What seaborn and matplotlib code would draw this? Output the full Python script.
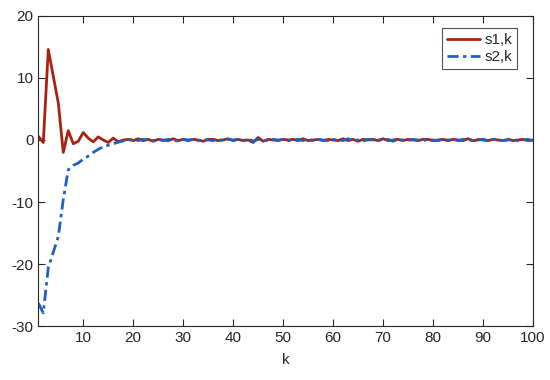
import matplotlib
matplotlib.use("Agg")
import matplotlib.pyplot as plt
import seaborn as sns
import pandas as pd

k = list(range(1, 101))

s1 = [0.6, -0.4, 14.6, 10.3, 6.0, -2.0, 1.5, -0.6, -0.2, 1.2,
      0.3, -0.3, 0.5, 0.0, -0.4, 0.3, -0.3, 0.0, 0.1, -0.1,
      0.2, -0.1, 0.1, -0.2, 0.1, 0.0, -0.1, 0.2, -0.1, 0.1,
      -0.1, 0.1, 0.0, -0.2, 0.1, 0.1, -0.1, 0.0, 0.2, -0.1,
      0.1, -0.1, 0.0, -0.4, 0.4, -0.2, 0.1, 0.0, -0.1, 0.1,
      0.0, 0.1, -0.1, 0.2, -0.1, 0.0, 0.1, -0.1, 0.1, 0.0,
      -0.1, 0.2, -0.1, 0.1, -0.2, 0.1, 0.0, 0.1, -0.1, 0.2,
      -0.1, 0.0, 0.1, -0.1, 0.1, 0.0, -0.1, 0.1, 0.1, -0.1,
      0.0, 0.1, -0.1, 0.1, 0.0, -0.1, 0.2, -0.1, 0.0, 0.1,
      -0.1, 0.1, 0.0, -0.1, 0.1, -0.1, 0.0, 0.1, -0.1, 0.0]

s2 = [-26.3, -27.9, -20.6, -18.1, -15.6, -9.6, -4.8, -4.1, -3.7, -3.1,
      -2.6, -2.0, -1.5, -1.1, -0.85, -0.6, -0.35, -0.15, 0.0, 0.1,
      -0.1, 0.1, 0.0, -0.1, 0.1, -0.1, 0.1, 0.0, -0.2, 0.1,
      0.0, 0.1, -0.1, 0.1, 0.0, -0.1, 0.2, -0.1, 0.1, 0.0,
      0.1, -0.1, 0.2, -0.2, 0.1, 0.0, -0.1, 0.1, 0.0, 0.1,
      -0.1, 0.0, 0.1, -0.1, 0.2, -0.1, 0.1, 0.0, -0.1, 0.1,
      0.0, -0.1, 0.2, -0.1, 0.0, -0.2, 0.1, 0.0, 0.1, -0.1,
      0.1, -0.2, 0.1, 0.0, -0.1, 0.1, 0.0, -0.1, 0.1, 0.0,
      -0.1, 0.1, 0.0, 0.1, -0.1, 0.1, 0.0, -0.1, 0.1, 0.0,
      -0.1, 0.1, 0.1, -0.1, 0.0, 0.1, -0.1, 0.0, 0.1, -0.1]

xticks = [10, 20, 30, 40, 50, 60, 70, 80, 90, 100]
yticks = [-30, -20, -10, 0, 10, 20]

sns.set_style("white")
plt.rcParams["font.family"] = ["Liberation Sans", "DejaVu Sans"]
plt.rcParams["axes.unicode_minus"] = False

df = pd.DataFrame({"k": k, "s1": s1, "s2": s2})

fig = plt.figure(figsize=(5.5, 3.8), dpi=100)
ax = fig.add_axes([0.0696, 0.142, 0.8994, 0.816])

sns.lineplot(data=df, x="k", y="s1", ax=ax, color="#A8220F", linewidth=2.0, label="s1,k")
sns.lineplot(data=df, x="k", y="s2", ax=ax, color="#1F5FC4", linewidth=2.0, label="s2,k")
ax.lines[1].set_dashes([4, 1.6, 1.2, 1.6])

ax.set_xlim(1, 100)
ax.set_ylim(-30, 20)
ax.set_xticks(xticks)
ax.set_yticks(yticks)
ax.set_xlabel("k", fontsize=11, color="#262626", labelpad=6)
ax.set_ylabel("")
ax.tick_params(direction="in", length=5, width=0.8, colors="#262626",
               labelsize=11, top=True, right=True, bottom=True, left=True)
for sp in ax.spines.values():
    sp.set_color("#262626")
    sp.set_linewidth(0.8)
    sp.set_visible(True)

leg = ax.legend(loc="upper right", bbox_to_anchor=(0.968, 0.96), fontsize=11,
                frameon=True, fancybox=False, edgecolor="#262626",
                handlelength=2.2, borderpad=0.3, labelspacing=0.2,
                handletextpad=0.3, borderaxespad=0)
leg.get_frame().set_linewidth(0.8)

fig.savefig("out.png", dpi=100)
